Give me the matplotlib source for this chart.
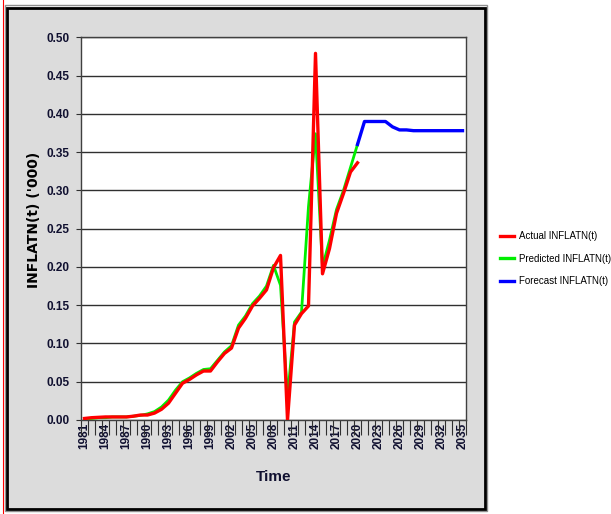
import matplotlib
matplotlib.use("Agg")
import matplotlib.pyplot as plt
from matplotlib.patches import Rectangle
from matplotlib.lines import Line2D
import numpy as np

# ---- data ----
years_actual = list(range(1981, 2021))
actual = [0.002, 0.003, 0.0035, 0.004, 0.004, 0.004, 0.004, 0.005, 0.0065, 0.0065,
          0.009, 0.014, 0.022, 0.035, 0.048, 0.053, 0.059, 0.064, 0.064, 0.076,
          0.087, 0.094, 0.120, 0.133, 0.149, 0.159, 0.170, 0.199, 0.215, 0.000,
          0.124, 0.139, 0.149, 0.479, 0.191, 0.224, 0.270, 0.296, 0.324, 0.336]
predicted = [0.001, 0.002, 0.003, 0.003, 0.004, 0.004, 0.004, 0.005, 0.006, 0.008,
             0.011, 0.017, 0.026, 0.039, 0.050, 0.055, 0.061, 0.066, 0.067, 0.078,
             0.089, 0.097, 0.124, 0.136, 0.152, 0.162, 0.175, 0.202, 0.176, 0.030,
             0.128, 0.141, 0.279, 0.374, 0.200, 0.235, 0.275, 0.300, 0.330, 0.360]
years_forecast = list(range(2020, 2036))
forecast = [0.360, 0.390, 0.390, 0.390, 0.390, 0.383, 0.379, 0.379, 0.378, 0.378,
            0.378, 0.378, 0.378, 0.378, 0.378, 0.378]
xtick_years = list(range(1981, 2036, 3))
yticks = [0.00, 0.05, 0.10, 0.15, 0.20, 0.25, 0.30, 0.35, 0.40, 0.45, 0.50]
series_labels = ["Actual INFLATN(t)", "Predicted INFLATN(t)", "Forecast INFLATN(t)"]

FONT = "Liberation Sans"
W, H = 611, 514
fig = plt.figure(figsize=(W / 100, H / 100), dpi=100)
fig.patch.set_facecolor("white")

def px(x0, y0, x1, y1):
    return (x0 / W, 1 - y1 / H, (x1 - x0) / W, (y1 - y0) / H)

# gray panel with border
fig.add_artist(Rectangle((5 / W, 1 - 511 / H), 482 / W, 506 / H, transform=fig.transFigure,
                         facecolor="none", edgecolor="#909090", lw=1.0, zorder=0))
fig.add_artist(Rectangle((7.5 / W, 1 - 508.5 / H), 477 / W, 501 / H, transform=fig.transFigure,
                         facecolor="#dcdcdc", edgecolor="black", lw=2.0, zorder=0))
fig.add_artist(Line2D([3 / W, 3 / W], [0, 1], transform=fig.transFigure, color="red", lw=0.8))

ax = fig.add_axes(px(81, 37.3, 466, 420))
ax.set_facecolor("white")
ax.set_zorder(1)

ax.plot(years_actual, predicted, color="#00ee00", lw=2.0, zorder=3)
ax.plot(years_actual, actual, color="#ff0000", lw=2.4, zorder=4)
ax.plot(years_forecast, forecast, color="#0000ff", lw=2.4, zorder=3)

ax.set_xlim(1980.5, 2035.5)
ax.set_ylim(0, 0.5)
ax.set_yticks(yticks)
ax.set_yticklabels([f"{v:.2f}" for v in yticks], fontfamily=FONT, fontweight="bold",
                   fontsize=8.5, color="#101030")
ax.yaxis.grid(True, color="#303030", lw=1.0)
ax.set_axisbelow(True)
ax.tick_params(axis="y", length=3.5, width=0.8, color="#303030", pad=5)

ax.set_xticks(xtick_years)
ax.set_xticklabels([str(y) for y in xtick_years], rotation=90, fontfamily=FONT,
                   fontweight="bold", fontsize=8.5, color="#101030")
ax.set_xticks(np.arange(1980.5, 2036, 1.0), minor=True)
ax.tick_params(axis="x", which="major", length=0, pad=2)
ax.tick_params(axis="x", which="minor", length=11, width=0.8, color="#303030")

for s in ax.spines.values():
    s.set_color("#404040")
    s.set_linewidth(1.0)

ax.set_xlabel("Time", fontfamily=FONT, fontweight="bold", fontsize=11,
              color="#101030", labelpad=15)
ax.set_ylabel("INFLATN(t) ('000)", fontfamily="DejaVu Sans", fontweight="bold",
              fontsize=10, color="black")
ax.yaxis.set_label_coords(-0.104, 0.522)

handles = [Line2D([], [], color="#ff0000", lw=2.4),
           Line2D([], [], color="#00ee00", lw=2.4),
           Line2D([], [], color="#0000ff", lw=2.4)]
fig.legend(handles, series_labels, loc="upper left", bbox_to_anchor=(500 / W, 1 - 231 / H),
           frameon=False, prop={"family": FONT, "size": 7}, handlelength=1.4,
           handletextpad=0.6, labelspacing=1.3, borderaxespad=0, borderpad=0)

fig.savefig("out.png", dpi=100, facecolor="white")
